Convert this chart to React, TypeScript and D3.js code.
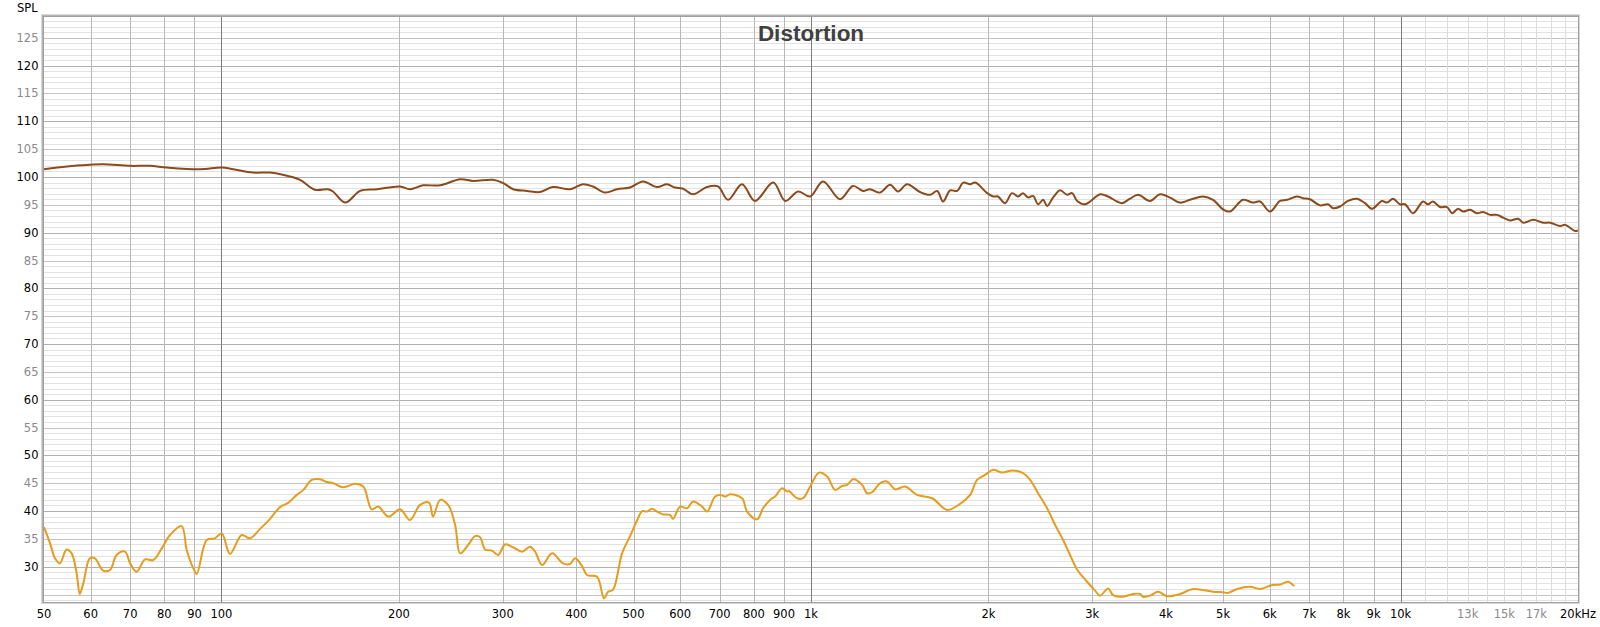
import React from "react";
import * as d3 from "d3";

// ---------- data ----------
const fundFreq = [50, 54.7, 59.8, 63, 70, 75.6, 80.8, 92, 100.2, 104.7, 113.1, 120.9, 127.1, 135.9, 144.1, 151.6, 154.6, 162.1, 171.9, 183.6, 200.8, 208.8, 219.8, 234.9, 254.1, 267.3, 289, 300.6, 312.6, 329.9, 346.9, 364.9, 390, 410.3, 426.6, 447.3, 468.7, 493.1, 518.7, 548, 569.9, 587.9, 606.6, 630.7, 666.4, 695.5, 723.3, 763.8, 803.3, 862.9, 904.3, 951, 996.4, 1048, 1120, 1178, 1225, 1259, 1309, 1362, 1405, 1455, 1531, 1592, 1637, 1675, 1722, 1770, 1812, 1862, 1899, 1990, 2037, 2076, 2134, 2193, 2245, 2289, 2335, 2381, 2428, 2476, 2515, 2574, 2646, 2719, 2773, 2828, 2918, 2975, 3093, 3191, 3305, 3370, 3476, 3587, 3760, 3909, 4064, 4226, 4394, 4624, 4808, 4999, 5137, 5405, 5620, 5776, 6006, 6245, 6418, 6674, 6832, 7021, 7301, 7533, 7682, 7895, 8146, 8438, 8705, 8946, 9302, 9485, 9710, 9979, 10176, 10500, 10918, 11130, 11350, 11665, 11990, 12230, 12520, 12760, 13120, 13480, 13800, 14190, 14580, 14930, 15340, 15830, 16150, 16790, 17460, 17940, 18650, 19020, 19780, 20000];
const fundDb = [101.4, 101.9, 102.2, 102.3, 102.0, 102.0, 101.7, 101.4, 101.7, 101.4, 100.8, 100.8, 100.4, 99.5, 97.7, 97.8, 97.4, 95.4, 97.5, 97.8, 98.3, 97.8, 98.5, 98.5, 99.6, 99.3, 99.5, 98.9, 97.8, 97.5, 97.3, 98.2, 97.8, 98.7, 98.3, 97.2, 97.8, 98.1, 99.2, 98.2, 98.7, 98.1, 97.9, 96.9, 98.2, 98.3, 95.9, 98.7, 95.7, 99.0, 95.7, 97.4, 96.5, 99.2, 96.0, 98.4, 97.5, 97.8, 97.2, 98.6, 97.4, 98.7, 97.3, 96.8, 97.5, 95.6, 97.6, 97.5, 99.0, 98.7, 99.0, 97.1, 96.5, 96.5, 95.3, 97.1, 96.5, 97.1, 96.3, 96.6, 95.1, 95.9, 94.8, 96.3, 97.6, 96.8, 97.1, 95.7, 95.1, 95.6, 96.9, 96.5, 95.6, 95.3, 96.1, 96.8, 95.7, 96.9, 96.3, 95.4, 95.9, 96.5, 95.9, 94.2, 93.8, 95.9, 95.4, 95.6, 93.8, 95.7, 95.9, 96.5, 96.2, 96.0, 94.9, 95.1, 94.4, 94.7, 95.7, 96.1, 95.3, 94.3, 95.7, 95.4, 96.1, 95.1, 95.1, 93.5, 95.6, 95.1, 95.6, 94.6, 94.6, 93.5, 94.3, 93.8, 94.1, 93.5, 93.7, 93.2, 93.2, 92.7, 92.2, 92.5, 91.8, 92.3, 91.8, 91.8, 91.2, 91.4, 90.3, 90.4];

const h2Freq = [50, 51.2, 52.2, 53.2, 54.6, 55.7, 56.8, 57.5, 58.3, 59.8, 61, 63, 64.7, 66.4, 68.6, 70, 71.8, 74.2, 76.6, 79.2, 81.8, 85.6, 87.3, 89.6, 90.8, 94.4, 97.5, 100.1, 103.4, 108.2, 111.8, 116.3, 120.9, 125.7, 129.9, 134.2, 137.7, 142.3, 147, 150.9, 154.8, 160, 163.1, 168.5, 174, 179.8, 184.5, 191.9, 200.9, 208.8, 217.2, 224.9, 228.5, 234.9, 242.3, 249.1, 254, 262, 269.3, 274.6, 280, 287.7, 294.6, 302.7, 312.3, 323.5, 333.8, 340.4, 349.8, 363.8, 379.8, 390.2, 398, 409, 417, 433.6, 445.6, 452.7, 461.6, 478.1, 493.3, 508.9, 516.9, 527, 537.5, 548.1, 561, 576.6, 583.4, 599.6, 616.2, 631, 653.4, 666.4, 687.6, 701.2, 715.1, 729.1, 764, 779.1, 810.1, 829.3, 852.3, 869.2, 893.3, 910.8, 917, 947.1, 969.4, 996.6, 1032, 1065, 1099, 1129, 1151, 1179, 1221, 1245, 1270, 1310, 1346, 1389, 1444, 1514, 1605, 1702, 1790, 1862, 1913, 1974, 2037, 2110, 2194, 2281, 2353, 2428, 2515, 2595, 2677, 2751, 2827, 2940, 3033, 3093, 3192, 3254, 3384, 3519, 3617, 3658, 3760, 3880, 4018, 4227, 4448, 4810, 5000, 5099, 5282, 5558, 5778, 6057, 6248, 6447, 6600];
const h2Db = [37.1, 34.2, 31.5, 30.6, 33.1, 32.4, 28.8, 25.1, 27.0, 31.5, 31.5, 29.3, 29.4, 32.1, 32.7, 30.6, 29.1, 31.3, 31.2, 33.3, 35.7, 37.3, 33.0, 29.7, 28.7, 34.8, 35.1, 36.0, 32.3, 35.7, 35.1, 36.8, 38.6, 40.7, 41.5, 42.9, 43.8, 45.6, 45.7, 45.2, 45.0, 44.3, 44.4, 44.9, 44.4, 40.3, 40.8, 39.0, 40.3, 38.4, 41.1, 41.5, 39.0, 42.0, 41.1, 37.5, 32.4, 33.9, 35.5, 35.3, 33.1, 32.9, 32.1, 34.0, 33.5, 32.7, 33.6, 32.7, 30.3, 32.4, 30.6, 30.5, 31.5, 30.1, 28.5, 28.2, 24.3, 25.5, 25.9, 32.4, 35.5, 38.7, 40.0, 39.9, 40.4, 39.9, 39.4, 39.3, 38.6, 40.8, 40.5, 41.7, 40.8, 39.9, 42.6, 42.9, 42.6, 43.0, 42.3, 39.9, 38.5, 40.5, 42.0, 42.6, 44.1, 43.5, 43.6, 42.3, 42.3, 44.4, 46.9, 46.2, 43.8, 44.5, 44.7, 45.7, 44.7, 43.2, 43.4, 45.0, 45.3, 43.9, 44.4, 42.9, 42.3, 40.2, 41.3, 42.9, 45.6, 46.5, 47.4, 46.9, 47.3, 46.9, 45.6, 43.2, 40.5, 37.5, 34.8, 32.1, 29.5, 27.3, 25.7, 24.8, 26.1, 24.9, 24.6, 25.1, 25.1, 24.6, 24.8, 25.5, 24.7, 25.1, 26.0, 25.5, 25.4, 25.3, 26.0, 26.4, 26.0, 26.7, 26.8, 27.3, 26.5];

const yTickValues = [125, 120, 115, 110, 105, 100, 95, 90, 85, 80, 75, 70, 65, 60, 55, 50, 45, 40, 35, 30];
const xTickValues = [50, 60, 70, 80, 90, 100, 200, 300, 400, 500, 600, 700, 800, 900, 1000, 2000, 3000, 4000, 5000, 6000, 7000, 8000, 9000, 10000, 13000, 15000, 17000, 20000];
const xTickLabels = ["50", "60", "70", "80", "90", "100", "200", "300", "400", "500", "600", "700", "800", "900", "1k", "2k", "3k", "4k", "5k", "6k", "7k", "8k", "9k", "10k", "13k", "15k", "17k", "20kHz"];
const xDimLabels = ["13k", "15k", "17k"];
const xGridMajor = [100, 1000, 10000];
const xGridNormal = [60, 70, 80, 90, 200, 300, 400, 500, 600, 700, 800, 900, 2000, 3000, 4000, 5000, 6000, 7000, 8000, 9000];
const xGridLight = [11000, 12000, 13000, 14000, 15000, 16000, 17000, 18000, 19000];

const W = 1600;
const H = 627;
const L = 44, R = 1578, T = 17, B = 602;
const FONT = "'DejaVu Sans', Verdana, sans-serif";

export default function App() {
  const x = d3.scaleLog().domain([50, 20000]).range([L, R]);
  const y = d3.scaleLinear().domain([23.66, 128.74]).range([B, T]);

  const line = d3
    .line<[number, number]>()
    .x((d) => x(d[0]))
    .y((d) => y(d[1]))
    .curve(d3.curveCatmullRom.alpha(0.5));

  const fund: [number, number][] = fundFreq.map((f, i) => [f, fundDb[i]]);
  const h2: [number, number][] = h2Freq.map((f, i) => [f, h2Db[i]]);

  const minorY = d3.range(24, 129);

  return (
    <svg
      width={W}
      height={H}
      style={{ position: "absolute", left: 0, top: 0, display: "block", background: "#fff" }}
    >
      <defs>
        <clipPath id="plotClip">
          <rect x={L} y={T} width={R - L} height={B - T} />
        </clipPath>
      </defs>
      <rect x={0} y={0} width={W} height={H} fill="#fff" />
      {/* horizontal grid */}
      {minorY.map((v) => {
        const c = v % 10 === 0 ? "#b0b0b0" : v % 5 === 0 ? "#c4c4c4" : "#e2e2e2";
        return <line key={"h" + v} x1={L} x2={R} y1={Math.round(y(v)) + 0.5} y2={Math.round(y(v)) + 0.5} stroke={c} strokeWidth={1} />;
      })}
      {/* vertical grid */}
      {xGridLight.map((f) => (
        <line key={"vl" + f} x1={Math.round(x(f)) + 0.5} x2={Math.round(x(f)) + 0.5} y1={T} y2={B} stroke="#dcdcdc" />
      ))}
      {xGridNormal.map((f) => (
        <line key={"vn" + f} x1={Math.round(x(f)) + 0.5} x2={Math.round(x(f)) + 0.5} y1={T} y2={B} stroke="#b8b8b8" />
      ))}
      {xGridMajor.map((f) => (
        <line key={"vm" + f} x1={Math.round(x(f)) + 0.5} x2={Math.round(x(f)) + 0.5} y1={T} y2={B} stroke="#7c7c7c" />
      ))}
      {/* frame */}
      <rect x={L - 2.5} y={T - 2.5} width={R - L + 4} height={B - T + 4} fill="none" stroke="#d8d8d8" strokeWidth={1} />
      <line x1={L - 1.5} x2={L - 1.5} y1={T - 2} y2={B + 1} stroke="#b4b4b4" strokeWidth={1} />
      <line x1={L - 2} x2={R + 1} y1={T - 1.5} y2={T - 1.5} stroke="#b4b4b4" strokeWidth={1} />
      <rect x={L - 0.5} y={T - 0.5} width={R - L + 1} height={B - T + 1} fill="none" stroke="#a0a0a0" strokeWidth={1} />

      {/* title */}
      <text x={x(1000)} y={41} textAnchor="middle" fontFamily="'Liberation Sans', Arial, sans-serif" fontWeight="bold" fontSize={22.5} fill="#404040">
        Distortion
      </text>

      {/* curves */}
      <g clipPath="url(#plotClip)">
        <path d={line(fund) || ""} fill="none" stroke="#8c4a1c" strokeWidth={2} strokeLinejoin="round" />
        <path d={line(h2) || ""} fill="none" stroke="#e69c1c" strokeWidth={2} strokeLinejoin="round" />
      </g>

      {/* axis labels */}
      <text x={17} y={12} fontFamily={FONT} fontSize={11.5} fill="#000">SPL</text>
      {yTickValues.map((v) => (
        <text key={"yt" + v} x={38.5} y={y(v) + 4} textAnchor="end" fontFamily={FONT} fontSize={11.5} fill={v % 10 === 0 ? "#000" : "#8a8a8a"}>
          {v}
        </text>
      ))}
      {xTickValues.map((f, i) => (
        <text key={"xt" + f} x={x(f)} y={618} textAnchor="middle" fontFamily={FONT} fontSize={11.5} fill={xDimLabels.includes(xTickLabels[i]) ? "#8a8a8a" : "#000"}>
          {xTickLabels[i]}
        </text>
      ))}
    </svg>
  );
}
